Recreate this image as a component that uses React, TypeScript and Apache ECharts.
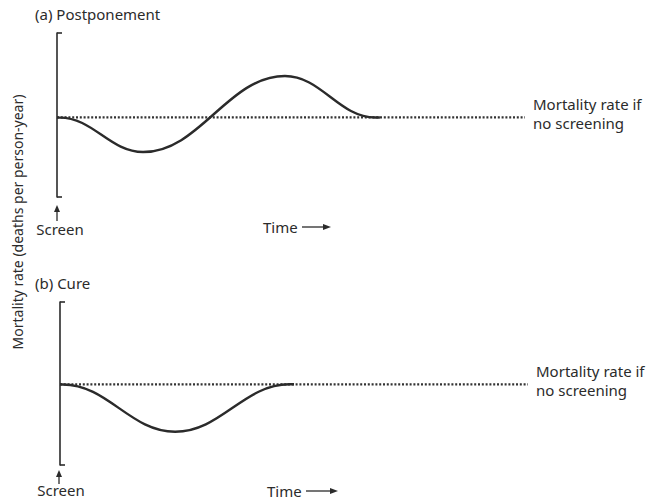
import React, { useEffect, useRef } from "react";
import * as echarts from "echarts";

// ---- data (arbitrary units: turning points of each curve,
//      plus the points where each curve leaves / rejoins the no-screening level) ----
const panelTitles = ["(a) Postponement", "(b) Cure"];
const baselineLabel = "Mortality rate if\nno screening";
const yAxisTitle = "Mortality rate (deaths per person-year)";
const screenLabel = "Screen";
const timeLabel = "Time";

const timeRange = [0, 100];
const rateRange = [0, 10];

const postponementTime = [0, 0.6, 18.4, 48.7, 68, 69];
const postponementRate = [4.85, 4.84, 2.74, 7.38, 4.85, 4.85];
const postponementBaseline = 4.85;

const cureTime = [0, 0.6, 24.6, 49, 50];
const cureRate = [4.95, 4.94, 2.04, 4.95, 4.95];
const cureBaseline = 4.95;

const FONT = "'Noto Sans', 'DejaVu Sans', sans-serif";
const INK = "#2b2b2b";

function zip(xs: number[], ys: number[]) {
  return xs.map((x, i) => [x, ys[i]]);
}

function arrowUp(x: number, yTip: number, yEnd: number) {
  return [
    { type: "line", shape: { x1: x, y1: yTip + 4, x2: x, y2: yEnd }, style: { stroke: INK, lineWidth: 1.3 } },
    { type: "polygon", shape: { points: [[x, yTip], [x - 3, yTip + 7], [x + 3, yTip + 7]] }, style: { fill: INK } },
  ];
}

function arrowRight(x1: number, x2: number, y: number) {
  return [
    { type: "line", shape: { x1, y1: y, x2: x2 - 4, y2: y }, style: { stroke: INK, lineWidth: 1.3 } },
    { type: "polygon", shape: { points: [[x2, y], [x2 - 8, y - 3], [x2 - 8, y + 3]] }, style: { fill: INK } },
  ];
}

function text(x: number, y: number, t: string, align: string = "left", size: number = 15, extra: any = {}) {
  return {
    type: "text",
    x,
    y,
    ...extra,
    style: { text: t, fill: INK, font: `${size}px ${FONT}`, textAlign: align, textVerticalAlign: "middle" },
  };
}

export default function App() {
  const ref = useRef<HTMLDivElement>(null);
  useEffect(() => {
    if (!ref.current) return;
    const chart = echarts.init(ref.current, undefined, { renderer: "svg" });

    const yAxisBase = {
      type: "value",
      min: rateRange[0],
      max: rateRange[1],
      interval: rateRange[1] - rateRange[0],
      axisLine: { show: true, onZero: false, lineStyle: { color: INK, width: 1.6 } },
      axisTick: { show: true, inside: true, length: 5, lineStyle: { color: INK, width: 1.6 } },
      axisLabel: { show: false },
      splitLine: { show: false },
    };
    const xAxisBase = { type: "value", min: timeRange[0], max: timeRange[1], show: false };

    const baselineSeries = (idx: number, value: number) => ({
      type: "line",
      xAxisIndex: idx,
      yAxisIndex: idx,
      data: [[timeRange[0], value], [timeRange[1], value]],
      showSymbol: false,
      silent: true,
      lineStyle: { color: "#333", width: 2.2, type: [2, 1.8] },
      endLabel: {
        show: true,
        formatter: baselineLabel,
        color: INK,
        fontFamily: FONT,
        fontSize: 15,
        lineHeight: 19,
        distance: 8,
        offset: [0, -4],
        align: "left",
        verticalAlign: "middle",
      },
      z: 1,
    });

    const curveSeries = (idx: number, xs: number[], ys: number[]) => ({
      type: "line",
      xAxisIndex: idx,
      yAxisIndex: idx,
      data: zip(xs, ys),
      smooth: 0.4,
      smoothMonotone: "x",
      showSymbol: false,
      silent: true,
      lineStyle: { color: INK, width: 2.4 },
      z: 2,
    });

    chart.setOption({
      animation: false,
      backgroundColor: "#ffffff",
      grid: [
        { left: 57, top: 33, width: 468, height: 164 },
        { left: 60, top: 302, width: 468, height: 163 },
      ],
      xAxis: [{ ...xAxisBase, gridIndex: 0 }, { ...xAxisBase, gridIndex: 1 }],
      yAxis: [{ ...yAxisBase, gridIndex: 0 }, { ...yAxisBase, gridIndex: 1 }],
      series: [
        baselineSeries(0, postponementBaseline),
        curveSeries(0, postponementTime, postponementRate),
        baselineSeries(1, cureBaseline),
        curveSeries(1, cureTime, cureRate),
      ],
      graphic: [
        text(35, 14, panelTitles[0]),
        text(35, 283, panelTitles[1]),
        text(17, 222, yAxisTitle, "center", 14, { rotation: Math.PI / 2 }),
        ...arrowUp(57, 205, 221),
        text(60, 229, screenLabel, "center"),
        ...arrowUp(59, 470, 484),
        text(61, 490, screenLabel, "center"),
        text(263, 227, timeLabel),
        ...arrowRight(302, 331, 227),
        text(267, 491, timeLabel),
        ...arrowRight(306, 338, 491),
      ],
    });
    return () => chart.dispose();
  }, []);
  return <div ref={ref} style={{ position: "fixed", left: 0, top: 0, width: 647, height: 500, background: "#fff" }} />;
}
